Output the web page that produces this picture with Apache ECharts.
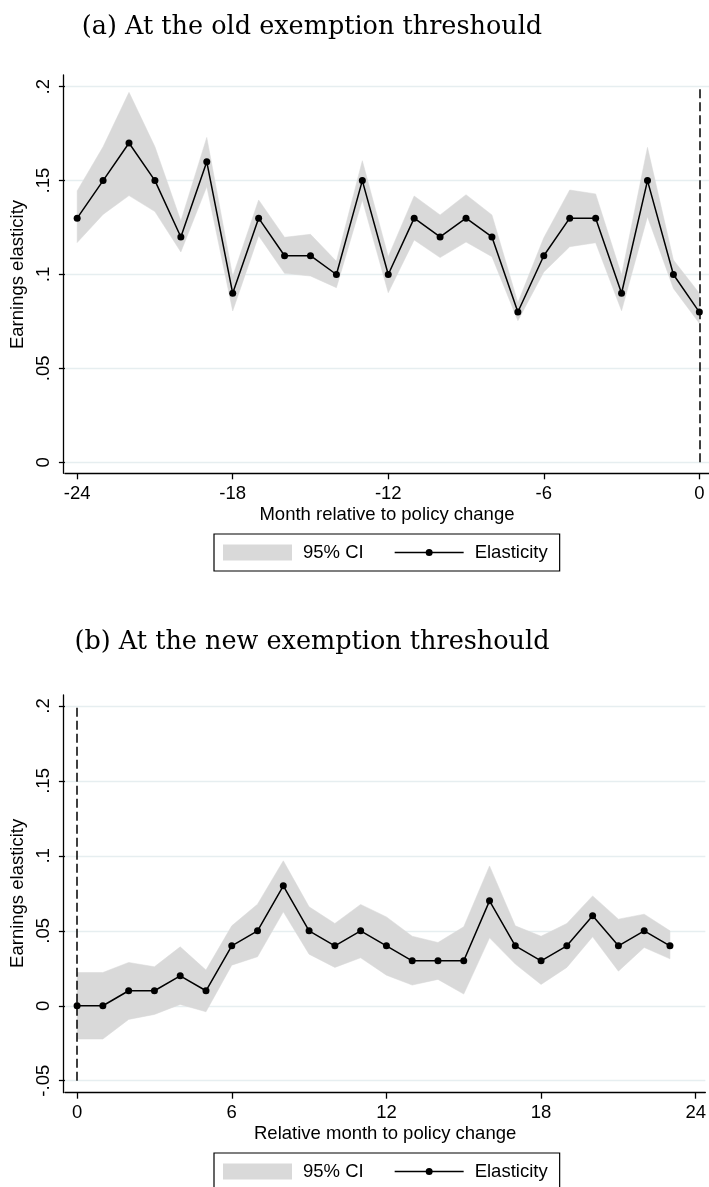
<!DOCTYPE html>
<html><head><meta charset="utf-8">
<script src="https://cdn.jsdelivr.net/npm/echarts@6/dist/echarts.min.js"></script>
<style>html,body{margin:0;padding:0;background:#fff}#c{width:709px;height:1187px}</style>
</head><body><div id="c"></div>
<script>
// ---------- Panel (a): old exemption threshold ----------
const monthsA = [-24,-23,-22,-21,-20,-19,-18,-17,-16,-15,-14,-13,-12,-11,-10,-9,-8,-7,-6,-5,-4,-3,-2,-1,0];
const elastA  = [0.130,0.150,0.170,0.150,0.120,0.160,0.090,0.130,0.110,0.110,0.100,0.150,0.100,0.130,0.120,0.130,0.120,0.080,0.110,0.130,0.130,0.090,0.150,0.100,0.080];
const ciLowA  = [0.117,0.132,0.142,0.1335,0.112,0.1468,0.0806,0.1207,0.1006,0.0992,0.093,0.1397,0.0903,0.1184,0.109,0.1173,0.1095,0.0754,0.1013,0.1148,0.1169,0.0807,0.1308,0.0926,0.074];
const ciHighA = [0.1445,0.168,0.197,0.168,0.1285,0.173,0.099,0.1397,0.1198,0.1214,0.107,0.1606,0.1095,0.1418,0.1317,0.1425,0.1317,0.085,0.1196,0.145,0.1429,0.0997,0.1677,0.1077,0.090];
const xTicksA = [-24,-18,-12,-6,0];

// ---------- Panel (b): new exemption threshold ----------
const monthsB = [0,1,2,3,4,5,6,7,8,9,10,11,12,13,14,15,16,17,18,19,20,21,22,23];
const elastB  = [0,0,0.01,0.01,0.02,0.01,0.04,0.05,0.08,0.05,0.04,0.05,0.04,0.03,0.03,0.03,0.07,0.04,0.03,0.04,0.06,0.04,0.05,0.04];
const ciLowB  = [-0.0222,-0.0222,-0.0091,-0.0058,0.0009,-0.004,0.0271,0.0327,0.0627,0.0344,0.0256,0.032,0.0204,0.0138,0.0176,0.0078,0.0453,0.0278,0.0142,0.0256,0.046,0.0231,0.0389,0.0313];
const ciHighB = [0.0222,0.0222,0.0289,0.026,0.0393,0.0238,0.0533,0.0678,0.0967,0.066,0.0549,0.0676,0.0593,0.0464,0.0422,0.0527,0.0933,0.0533,0.0464,0.0549,0.0733,0.0578,0.0611,0.050];
const xTicksB = [0,6,12,18,24];

const titleA = '(a) At the old exemption threshould';
const titleB = '(b) At the new exemption threshould';
const xNameA = 'Month relative to policy change';
const xNameB = 'Relative month to policy change';
const yName = 'Earnings elasticity';
const legendNames = ['95% CI','Elasticity'];

const SANS = '"Liberation Sans", Arial, sans-serif';
const FS = 18.5;
const BLACK = '#000';
const BAND = '#d9d9d9';
const txt = {fontFamily: SANS, fontSize: FS, color: BLACK};
const yFmt = v => { let s = (+v.toFixed(3)).toString(); return s.replace(/^(-?)0\./, '$1.'); };
const lineIcon = 'path://M0,7.25L31.2,7.25L31.2,8.75L0,8.75Z M37.8,7.25L69,7.25L69,8.75L37.8,8.75Z M31,8A3.5,3.5,0,1,1,38,8A3.5,3.5,0,1,1,31,8Z';

const grids = [], xAxes = [], yAxes = [], series = [], legends = [];

function panel(cfg) {
  const gi = grids.length;
  grids.push({left: 63, right: 0, top: cfg.top, height: cfg.height, containLabel: false});
  grids.push({left: 63, right: 0, top: cfg.frameTop, height: cfg.frameHeight, containLabel: false});
  xAxes.push({
    type: 'value', gridIndex: gi, min: cfg.xMin, max: cfg.xMax, offset: cfg.xOffset,
    axisLine: {show: true, onZero: false, lineStyle: {color: BLACK, width: 1.3}},
    axisTick: {show: true, customValues: cfg.xTicks, length: 6, lineStyle: {color: BLACK, width: 1.3}},
    axisLabel: {customValues: cfg.xTicks, margin: 11, formatter: v => String(v), ...txt},
    splitLine: {show: false},
    name: cfg.xName, nameLocation: 'middle', nameGap: 32, nameTextStyle: txt
  });
  xAxes.push({type: 'value', gridIndex: gi + 1, show: false});
  yAxes.push({
    type: 'value', gridIndex: gi, min: cfg.yMin, max: cfg.yMax, interval: 0.05,
    axisLine: {show: false, onZero: false},
    axisTick: {show: true, length: 6, lineStyle: {color: BLACK, width: 1.3}},
    axisLabel: {rotate: 90, margin: 11, formatter: yFmt, ...txt},
    splitLine: {show: true, lineStyle: {color: '#e6eef0', width: 1.3}},
    name: yName, nameLocation: 'middle', nameRotate: 90, nameGap: 27, nameTextStyle: txt
  });
  yAxes.push({
    type: 'value', gridIndex: gi + 1,
    axisLine: {show: true, onZero: false, lineStyle: {color: BLACK, width: 1.3}},
    axisTick: {show: false}, axisLabel: {show: false}, splitLine: {show: false}
  });
  const months = cfg.months, low = cfg.low, high = cfg.high;
  series.push({
    type: 'custom', name: '95% CI', xAxisIndex: gi, yAxisIndex: gi, color: BAND,
    silent: true, z: 1,
    data: months.map((m, i) => [m, low[i], high[i]]),
    encode: {x: 0, y: [1, 2]},
    renderItem: function (params, api) {
      if (params.dataIndex !== 0) return null;
      const pts = [];
      for (let i = 0; i < months.length; i++) pts.push(api.coord([months[i], high[i]]));
      for (let i = months.length - 1; i >= 0; i--) pts.push(api.coord([months[i], low[i]]));
      return {type: 'polygon', shape: {points: pts}, style: {fill: BAND, stroke: BAND, lineWidth: 0.5}};
    }
  });
  series.push({
    type: 'line', name: 'Elasticity', xAxisIndex: gi, yAxisIndex: gi, color: BLACK,
    data: months.map((m, i) => [m, cfg.elast[i]]),
    symbol: 'circle', symbolSize: 7, showSymbol: true,
    lineStyle: {color: BLACK, width: 1.5}, itemStyle: {color: BLACK}, z: 3,
    markLine: {
      silent: true, symbol: ['none', 'none'], label: {show: false},
      lineStyle: {type: [9, 4], color: BLACK, width: 1.5},
      data: [{xAxis: 0}]
    }
  });
  legends.push({
    left: 214, top: cfg.legendTop, orient: 'horizontal', padding: [9, 12, 9, 9],
    itemGap: 31, itemWidth: 69, itemHeight: 16, selectedMode: false,
    borderColor: BLACK, borderWidth: 1.2,
    textStyle: {...txt, padding: [0, 0, 0, 6]},
    data: [
      {name: legendNames[0], icon: 'rect', itemStyle: {color: BAND, borderWidth: 0}},
      {name: legendNames[1], icon: lineIcon, itemStyle: {color: BLACK, borderWidth: 0}}
    ]
  });
}

panel({top: 86.7, height: 375.6, frameTop: 75, frameHeight: 398.3, xMin: -24.473, xMax: 0.373, xOffset: 11,
       yMin: 0, yMax: 0.2, months: monthsA, elast: elastA, low: ciLowA, high: ciHighA,
       xTicks: xTicksA, xName: xNameA, legendTop: 534});
panel({top: 706, height: 374.7, frameTop: 695, frameHeight: 397.7, xMin: -0.473, xMax: 24.373, xOffset: 12,
       yMin: -0.05, yMax: 0.2, months: monthsB, elast: elastB, low: ciLowB, high: ciHighB,
       xTicks: xTicksB, xName: xNameB, legendTop: 1153});

const titleStyle = {fontFamily: '"DejaVu Serif", serif', fontSize: 25.5, fontWeight: 'normal', color: BLACK};
const option = {
  animation: false,
  backgroundColor: '#fff',
  title: [
    {text: titleA, left: 312, top: 14, textAlign: 'center', padding: 0, textStyle: titleStyle},
    {text: titleB, left: 312, top: 629, textAlign: 'center', padding: 0, textStyle: titleStyle}
  ],
  grid: grids, xAxis: xAxes, yAxis: yAxes, series: series, legend: legends
};
const chart = echarts.init(document.getElementById('c'), null, {renderer: 'canvas'});
chart.setOption(option);
</script></body></html>
